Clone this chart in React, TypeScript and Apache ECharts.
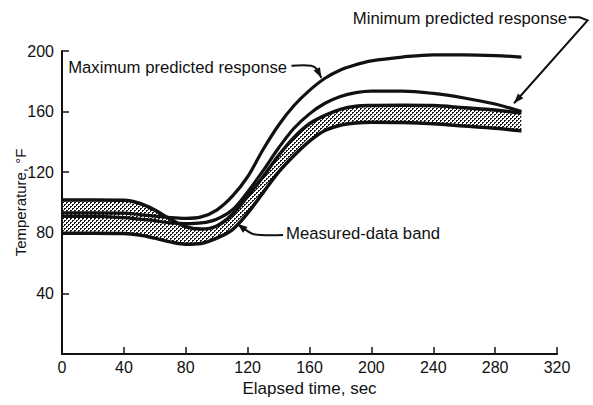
import React, { useEffect, useRef } from "react";
import * as echarts from "echarts";

// Elapsed time, sec (shared sampling for all curves)
const timeSec = [0, 20, 40, 50, 60, 70, 80, 90, 100, 110, 120, 130, 140, 150, 160, 170, 180, 190, 200, 220, 240, 260, 280, 297];
// Temperature, °F
const maxPredicted = [93.2, 93.2, 93, 92, 91, 90, 89.5, 90.5, 95, 104, 117, 135, 151, 164, 174, 182, 187.5, 191, 193.5, 196, 197.5, 197.5, 197, 196];
const minPredicted = [90.8, 90.8, 90, 89, 88, 86.5, 86, 86.5, 89, 95, 107, 121, 136, 149, 158.5, 165.5, 170, 172.5, 173.5, 173.5, 172, 169, 165, 160];
const bandUpper = [101.6, 101.6, 101.5, 99.5, 95, 89, 84, 82.5, 84.5, 92, 104, 117, 131, 143, 152, 157.5, 161.5, 163.5, 164, 164.2, 164, 162.5, 161, 159];
const bandLower = [79.7, 79.7, 79.5, 78.5, 76.5, 74, 72.5, 73, 76.5, 82, 93, 106.5, 120, 131, 140.5, 147.5, 151, 152.5, 153, 152.8, 152, 150.5, 149, 147.3];

const xTickLabels = ["0", "40", "80", "120", "160", "200", "240", "280", "320"];
const yTickLabels = ["40", "80", "120", "160", "200"];

const xTitle = "Elapsed time, sec";
const yTitle = "Temperature, °F";

// Annotations: text anchor and leader path ending at arrow tip, in data units
const maxLabelText = "Maximum predicted response";
const maxLabelAt = [4, 188.8]; // left, middle
const maxLeader = [[148.3, 190.3], [161.2, 190.3], [164.8, 188], [167.6, 182.3]];

const minLabelText = "Minimum predicted response";
const minLabelAt = [326.5, 221.6]; // right, middle
const minLeader = [[327.5, 222.3], [334.6, 222.3], [339.8, 220.2], [292.2, 165.5]];

const bandLabelText = "Measured-data band";
const bandLabelAt = [144.8, 79.3]; // left, middle
const bandLeader = [[142.9, 78.6], [124.1, 79.1], [116.4, 83.6], [113.4, 86]];

function makeStipple() {
  const c = document.createElement("canvas");
  c.width = 4;
  c.height = 4;
  const ctx = c.getContext("2d")!;
  ctx.fillStyle = "#ffffff";
  ctx.fillRect(0, 0, 4, 4);
  ctx.fillStyle = "#1a1a1a";
  ctx.fillRect(0, 0, 2, 1);
  ctx.fillRect(0, 1, 1, 1);
  ctx.fillRect(2, 2, 2, 1);
  ctx.fillRect(2, 3, 1, 1);
  return c;
}

export default function App() {
  const ref = useRef<HTMLDivElement>(null);

  useEffect(() => {
    const chart = echarts.init(ref.current!, null, { renderer: "svg" });
    const ink = "#111111";
    const numFont = "'Liberation Sans Narrow', 'Arial Narrow', 'Liberation Sans', sans-serif";
    const txtFont = "'Liberation Sans', Arial, sans-serif";
    const pairs = (vals: number[]) => timeSec.map((t, i) => [t, vals[i]]);
    const base = {
      type: "line",
      showSymbol: false,
      symbol: "none",
      smooth: 0.35,
      silent: true,
      animation: false,
    };
    const stipple = makeStipple();
    const lastT = timeSec[timeSec.length - 1];
    const lastLower = bandLower[bandLower.length - 1];

    chart.setOption({
      animation: false,
      backgroundColor: "#ffffff",
      grid: { left: 62, right: 36, top: 51, bottom: 51, containLabel: false, outerBoundsMode: "none" },
      xAxis: {
        type: "value",
        z: 10,
        min: 0,
        max: 320,
        interval: 40,
        name: xTitle,
        nameLocation: "middle",
        nameGap: 26,
        nameMoveOverlap: false,
        nameTextStyle: { color: ink, fontSize: 17, fontFamily: txtFont, verticalAlign: "top" },
        axisLine: { lineStyle: { color: ink, width: 2 } },
        axisTick: { inside: true, length: 7, lineStyle: { color: ink, width: 1.5 } },
        axisLabel: {
          margin: 5,
          color: ink,
          fontSize: 16,
          fontFamily: numFont,
          formatter: (v: number) => xTickLabels[Math.round(v / 40)] ?? "",
        },
        splitLine: { show: false },
      },
      yAxis: {
        type: "value",
        z: 10,
        min: 0,
        max: 200,
        interval: 40,
        name: yTitle,
        nameLocation: "middle",
        nameGap: 34,
        nameMoveOverlap: false,
        nameRotate: 90,
        nameTextStyle: { color: ink, fontSize: 15, fontFamily: txtFont },
        axisLine: { lineStyle: { color: ink, width: 2 } },
        axisTick: { inside: true, length: 7, lineStyle: { color: ink, width: 1.5 } },
        axisLabel: {
          margin: 8,
          color: ink,
          fontSize: 16,
          fontFamily: numFont,
          formatter: (v: number) => (v === 0 ? "" : yTickLabels[Math.round(v / 40) - 1] ?? ""),
        },
        splitLine: { show: false },
      },
      series: [
        {
          ...base,
          name: "Measured-data band",
          data: pairs(bandUpper),
          lineStyle: { width: 0, opacity: 0 },
          areaStyle: { color: { image: stipple, repeat: "repeat" }, opacity: 1, origin: "start" },
          z: 2,
        },
        {
          ...base,
          name: "band mask",
          data: pairs(bandLower),
          lineStyle: { width: 0, opacity: 0 },
          areaStyle: { color: "#ffffff", opacity: 1, origin: "start" },
          z: 2,
          markLine: {
            silent: true,
            z: 2.5,
            symbol: "none",
            label: { show: false },
            lineStyle: { color: "#ffffff", width: 3, type: "solid", opacity: 1 },
            data: [[{ coord: [lastT, 0] }, { coord: [lastT, lastLower - 1.5] }]],
          },
        },
        { ...base, name: "band upper", data: pairs(bandUpper), lineStyle: { color: ink, width: 3.5 }, z: 3 },
        { ...base, name: "band lower", data: pairs(bandLower), lineStyle: { color: ink, width: 3.5 }, z: 3 },
        { ...base, name: maxLabelText, data: pairs(maxPredicted), lineStyle: { color: ink, width: 3.2 }, z: 4 },
        { ...base, name: minLabelText, data: pairs(minPredicted), lineStyle: { color: ink, width: 3.2 }, z: 4 },
      ],
    });

    const px = (p: number[]) => chart.convertToPixel({ xAxisIndex: 0, yAxisIndex: 0 }, p) as number[];
    const arrowHead = (from: number[], tip: number[]) => {
      const dx = tip[0] - from[0];
      const dy = tip[1] - from[1];
      const len = Math.hypot(dx, dy) || 1;
      const ux = dx / len, uy = dy / len;
      const L = 10, W = 3.6;
      const bx = tip[0] - ux * L, by = tip[1] - uy * L;
      return [tip, [bx - uy * W, by + ux * W], [bx + uy * W, by - ux * W]];
    };
    const leader = (pts: number[][], smooth: number) => {
      const p = pts.map(px);
      const tip = p[p.length - 1];
      const prev = p[p.length - 2];
      return [
        { type: "polyline", shape: { points: p, smooth }, style: { stroke: ink, lineWidth: 2, fill: null }, z: 10 },
        { type: "polygon", shape: { points: arrowHead(prev, tip) }, style: { fill: ink }, z: 10 },
      ];
    };
    const label = (text: string, at: number[], align: string) => {
      const p = px(at);
      return {
        type: "text",
        x: p[0],
        y: p[1],
        z: 10,
        style: {
          text,
          fill: ink,
          fontSize: 16.7,
          fontFamily: txtFont,
          align,
          verticalAlign: "middle",
          textAlign: align,
          textVerticalAlign: "middle",
        },
      };
    };

    chart.setOption({
      graphic: [
        label(maxLabelText, maxLabelAt, "left"),
        ...leader(maxLeader, 0.3),
        label(minLabelText, minLabelAt, "right"),
        ...leader(minLeader, 0),
        label(bandLabelText, bandLabelAt, "left"),
        ...leader(bandLeader, 0.3),
      ],
    });

    return () => chart.dispose();
  }, []);

  return (
    <div
      ref={ref}
      style={{ position: "fixed", left: 0, top: 0, width: 593, height: 405, background: "#ffffff" }}
    />
  );
}
